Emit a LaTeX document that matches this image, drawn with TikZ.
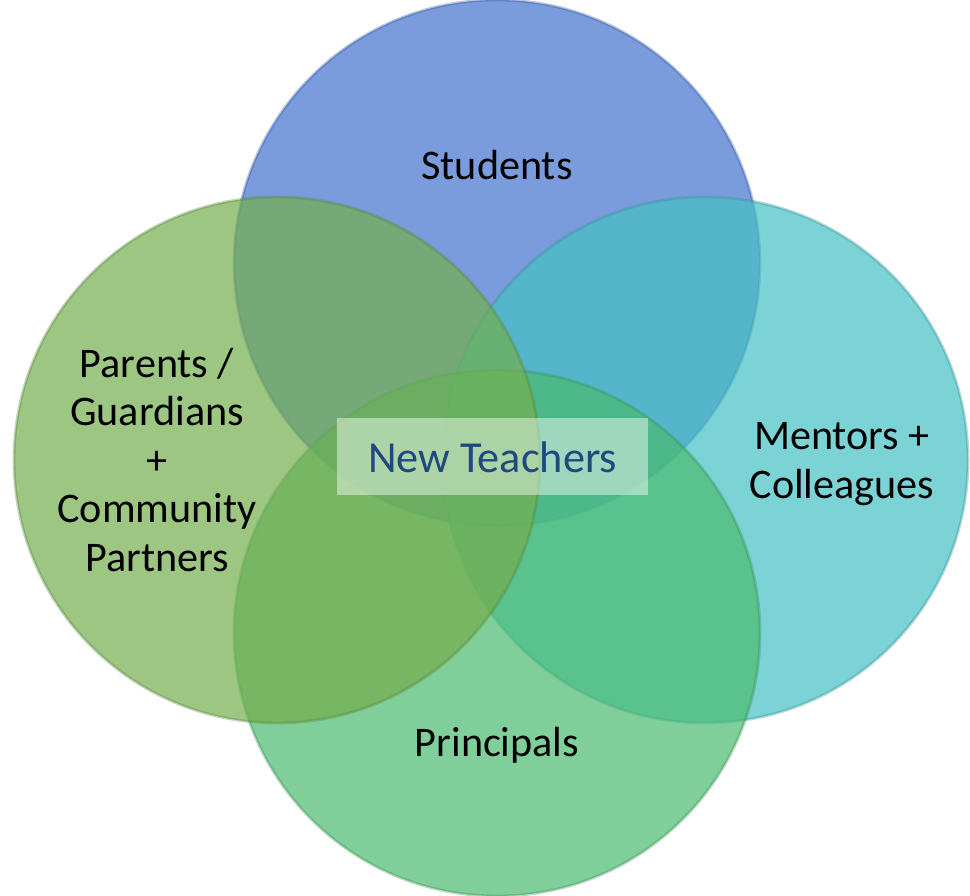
\documentclass[tikz,border=0pt]{standalone}
\usepackage{fontspec}
\setmainfont{Carlito}
\definecolor{studblue}{RGB}{66,114,205}
\definecolor{mentcyan}{RGB}{69,192,197}
\definecolor{princgreen}{RGB}{74,187,111}
\definecolor{parolive}{RGB}{115,174,78}
\definecolor{teachblue}{RGB}{31,73,125}
\begin{document}
\begin{tikzpicture}[ring/.style={fill=#1,fill opacity=0.7,draw=#1!75!black,draw opacity=0.35,line width=0.8pt},
 lbl/.style={font=\fontsize{12}{13.8}\selectfont,align=center,text=black}]
 \useasboundingbox (0,0) rectangle (9.70,8.96);
 % circles, back to front
 \draw[ring=studblue](4.97,6.33) circle (2.63);
 \draw[ring=mentcyan](7.05,4.36) circle (2.63);
 \draw[ring=princgreen](4.97,2.63) circle (2.63);
 \draw[ring=parolive](2.77,4.36) circle (2.63);
 % labels
 \node[lbl] (students) at (4.97,7.31) {Students};
 \node[lbl] (mentors) at (8.42,4.32) {Mentors +\\Colleagues};
 \node[lbl] (principals) at (4.97,1.51) {Principals};
 \node[lbl] (parents) at (1.57,4.36) {Parents /\\Guardians\\+\\Community\\Partners};
 \node[fill=white,fill opacity=0.45,text opacity=1,text=teachblue,minimum width=3.11cm,minimum height=0.77cm,
  font=\fontsize{12.6}{14}\selectfont] (teachers) at (4.925,4.39) {New Teachers};
\end{tikzpicture}
\end{document}
